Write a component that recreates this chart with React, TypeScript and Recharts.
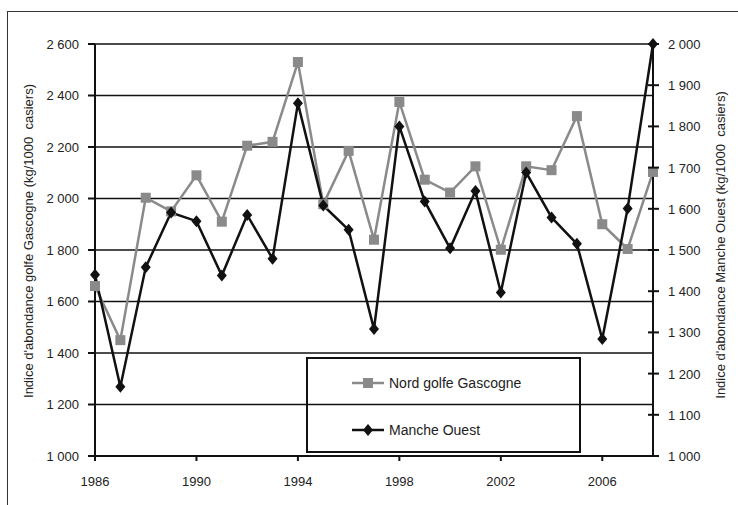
import React from 'react';
import { LineChart, Line, XAxis, YAxis, CartesianGrid } from 'recharts';

const years = [
  1986, 1987, 1988, 1989, 1990, 1991, 1992, 1993, 1994, 1995, 1996, 1997,
  1998, 1999, 2000, 2001, 2002, 2003, 2004, 2005, 2006, 2007, 2008,
];
// Nord golfe Gascogne (left axis)
const gascogne = [
  1660, 1450, 2003, 1950, 2090, 1910, 2205, 2220, 2530, 1978, 2185, 1840,
  2375, 2073, 2023, 2125, 1801, 2125, 2110, 2320, 1900, 1804, 2103,
];
// Manche Ouest (right axis)
const mancheOuest = [
  1440, 1168, 1458, 1591, 1570, 1438, 1585, 1479, 1856, 1608, 1549, 1308,
  1800, 1618, 1504, 1643, 1397, 1688, 1579, 1515, 1284, 1601, 2000,
];
const xTicks = [1986, 1990, 1994, 1998, 2002, 2006];
const leftTicks = [1000, 1200, 1400, 1600, 1800, 2000, 2200, 2400, 2600];
const rightTicks = [1000, 1100, 1200, 1300, 1400, 1500, 1600, 1700, 1800, 1900, 2000];

const data = years.map((year, i) => ({
  year,
  gascogne: gascogne[i],
  mancheOuest: mancheOuest[i],
}));

const FONT = '"Liberation Sans", Arial, sans-serif';
const TEXT = '#222';
const GREY = '#8a8a8a';

const fmt = (v: number) => String(v).replace(/\B(?=(\d{3})+(?!\d))/g, ' ');

const SquareDot = (props: any) => {
  const { cx, cy, index } = props;
  if (cx == null || cy == null) return null;
  return <rect key={`sq-${index}`} x={cx - 5} y={cy - 5} width={10} height={10} fill={GREY} />;
};

const DiamondDot = (props: any) => {
  const { cx, cy, index } = props;
  if (cx == null || cy == null) return null;
  return (
    <polygon
      key={`dm-${index}`}
      points={`${cx},${cy - 6} ${cx + 5},${cy} ${cx},${cy + 6} ${cx - 5},${cy}`}
      fill="#111"
    />
  );
};

// right axis tick: mark crosses the axis line
const RightTick = (props: any) => {
  const { x, y, payload } = props;
  const ax = x - 15;
  return (
    <g>
      <line x1={ax - 5} y1={y} x2={ax + 6} y2={y} stroke="#111" strokeWidth={2} />
      <text x={x} y={y} dy={5} fill={TEXT} fontSize={13} fontFamily={FONT}>
        {fmt(payload.value)}
      </text>
    </g>
  );
};

const LegendBox = () => (
  <div
    style={{
      position: 'absolute',
      left: 306,
      top: 357,
      width: 275,
      height: 96,
      border: '2px solid #111',
      boxSizing: 'border-box',
    }}
  >
    <svg width={271} height={92} style={{ display: 'block' }}>
      <line x1={44} y1={24} x2={76} y2={24} stroke={GREY} strokeWidth={2.5} />
      <rect x={55} y={19} width={10} height={10} fill={GREY} />
      <text x={81} y={29} fill={TEXT} fontSize={14} fontFamily={FONT}>
        Nord golfe Gascogne
      </text>
      <line x1={44} y1={71} x2={76} y2={71} stroke="#111" strokeWidth={2.5} />
      <polygon points="60,65 65,71 60,77 55,71" fill="#111" />
      <text x={81} y={76} fill={TEXT} fontSize={14} fontFamily={FONT}>
        Manche Ouest
      </text>
    </svg>
  </div>
);

export default function App() {
  return (
    <div style={{ position: 'absolute', left: 0, top: 0, width: 738, height: 505, background: '#fff', overflow: 'hidden' }}>
      <div
        style={{
          position: 'absolute',
          left: 7,
          top: 11,
          width: 740,
          height: 500,
          borderTop: '1.5px solid #333',
          borderLeft: '1.5px solid #333',
        }}
      />
      <div style={{ position: 'absolute', left: 0, top: 0 }}>
        <LineChart
          width={738}
          height={505}
          data={data}
          margin={{ top: 44, right: 15, left: 35, bottom: 9 }}
        >
          <CartesianGrid yAxisId="left" vertical={false} stroke="#111" strokeWidth={1.6} />
          <XAxis
            dataKey="year"
            type="number"
            domain={[1986, 2008]}
            ticks={xTicks}
            height={40}
            tickSize={5}
            tickMargin={16}
            stroke="#111"
            strokeWidth={2}
            tick={{ fill: TEXT, fontSize: 13, fontFamily: FONT }}
          />
          <YAxis
            yAxisId="left"
            domain={[1000, 2600]}
            ticks={leftTicks}
            width={60}
            tickSize={7}
            tickMargin={9}
            tickFormatter={fmt}
            stroke="#111"
            strokeWidth={2}
            tick={{ fill: TEXT, fontSize: 13, fontFamily: FONT }}
          />
          <YAxis
            yAxisId="right"
            orientation="right"
            domain={[1000, 2000]}
            ticks={rightTicks}
            width={70}
            tickSize={5}
            tickMargin={10}
            tickLine={false}
            stroke="#111"
            strokeWidth={2}
            tick={<RightTick />}
          />
          <Line
            yAxisId="left"
            dataKey="gascogne"
            name="Nord golfe Gascogne"
            stroke={GREY}
            strokeWidth={2.5}
            dot={SquareDot}
            activeDot={false}
            isAnimationActive={false}
          />
          <Line
            yAxisId="right"
            dataKey="mancheOuest"
            name="Manche Ouest"
            stroke="#111"
            strokeWidth={2.5}
            dot={DiamondDot}
            activeDot={false}
            isAnimationActive={false}
          />
        </LineChart>
      </div>
      <LegendBox />
      <div
        style={{
          position: 'absolute',
          left: 28,
          top: 241,
          transform: 'translate(-50%, -50%) rotate(-90deg)',
          whiteSpace: 'pre',
          fontFamily: FONT,
          fontSize: 13,
          color: TEXT,
        }}
      >
        {"Indice d'abondance golfe Gascogne (kg/1000  casiers)"}
      </div>
      <div
        style={{
          position: 'absolute',
          left: 720,
          top: 245,
          transform: 'translate(-50%, -50%) rotate(-90deg)',
          whiteSpace: 'pre',
          fontFamily: FONT,
          fontSize: 13,
          color: TEXT,
        }}
      >
        {"Indice d'abondance Manche Ouest (kg/1000  casiers)"}
      </div>
    </div>
  );
}
